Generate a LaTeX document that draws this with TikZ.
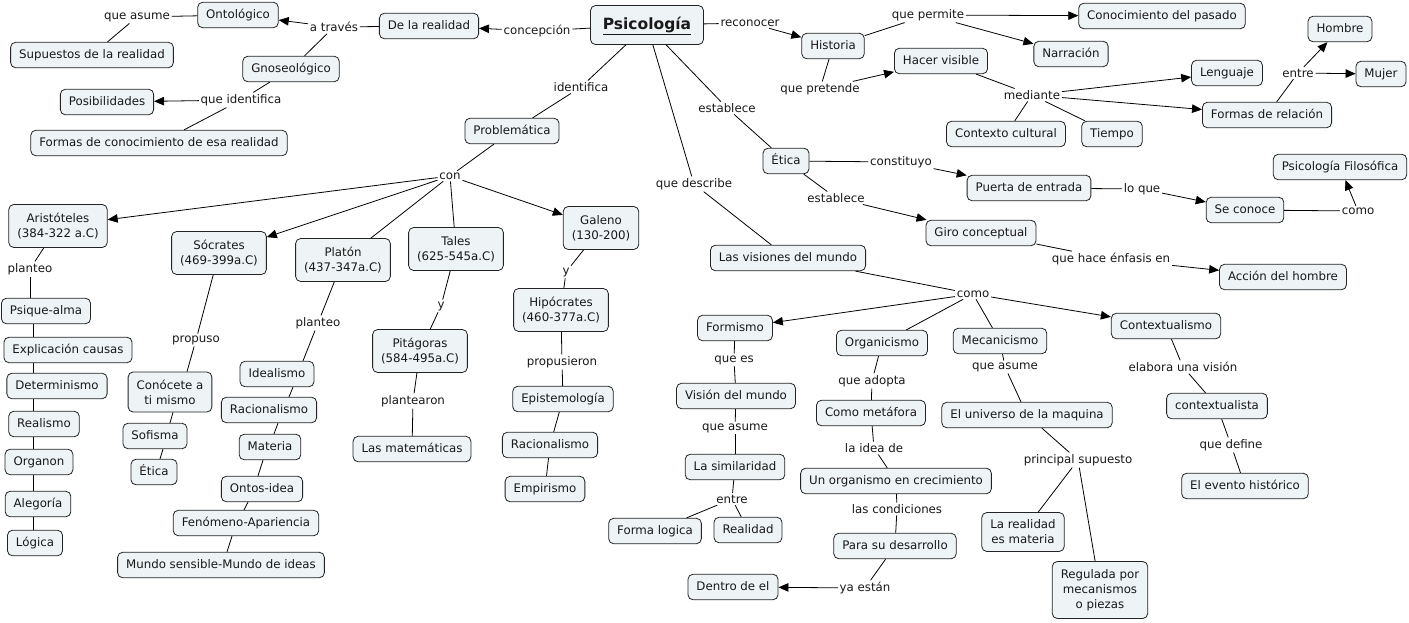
\documentclass[tikz,border=0pt]{standalone}
\usepackage{fontspec}
\setmainfont{DejaVu Sans}
\usepackage{tikz}
\usetikzlibrary{arrows.meta}
\definecolor{cmapfill}{RGB}{238,243,245}
\definecolor{cmapline}{RGB}{35,35,35}

\begin{document}
\begin{tikzpicture}[x=1pt,y=-1pt,line width=0.8pt,
  concept/.style={draw=cmapline,fill=cmapfill,rounded corners=5pt,
    inner xsep=8.5pt,inner ysep=0pt,minimum height=25.5pt,text height=9pt,text depth=2.5pt},
  concepttwo/.style={draw=cmapline,fill=cmapfill,rounded corners=5pt,
    inner xsep=8.5pt,inner ysep=0pt,minimum height=43pt,align=center},
  link/.style={inner sep=1.5pt},
  arr/.style={-{Triangle[length=10pt,width=8.5pt]}}]
\tikzstyle{every node}+=[font=\fontsize{11.8}{15}\selectfont,text=black!90]

\useasboundingbox (0,0) rectangle (1409,622);
\fill [white] (0,0) rectangle (1409,622);

% concepts
\node [concept,minimum width=113pt,minimum height=39pt,text height=11.5pt,text depth=3.5pt,
  font=\fontsize{15.5}{18}\selectfont\bfseries] (psico) at (647,25) {\underline{Psicología}};
\node [concept] (realidad) at (429,26) {De la realidad};
\node [concept] (ontol) at (238,15) {Ontológico};
\node [concept] (supuestos) at (92,55) {Supuestos de la realidad};
\node [concept] (gnoseo) at (291,69) {Gnoseológico};
\node [concept] (posib) at (107,102) {Posibilidades};
\node [concept] (formasc) at (159,143) {Formas de conocimiento de esa realidad};
\node [concept] (problem) at (512,131) {Problemática};
\node [concepttwo] (arist) at (58,226) {Aristóteles\\(384-322 a.C)};
\node [concepttwo] (socr) at (219,253) {Sócrates\\(469-399a.C)};
\node [concepttwo] (platon) at (343,260) {Platón\\(437-347a.C)};
\node [concepttwo] (tales) at (456,249) {Tales\\(625-545a.C)};
\node [concepttwo] (galeno) at (601,228) {Galeno\\(130-200)};
\node [concepttwo] (hipoc) at (561,310) {Hipócrates\\(460-377a.C)};
\node [concept] (psique) at (46,311) {Psique-alma};
\node [concept] (explic) at (68,350) {Explicación causas};
\node [concept] (determ) at (57,386) {Determinismo};
\node [concept] (realis) at (44,424) {Realismo};
\node [concept] (organon) at (39,462) {Organon};
\node [concept] (alegoria) at (38,504) {Alegoría};
\node [concept] (logica) at (35,543) {Lógica};
\node [concepttwo,minimum height=40pt] (conoce) at (170,392) {Conócete a\\ti mismo};
\node [concept] (sofisma) at (155,436) {Sofisma};
\node [concept] (eticas) at (154,472) {Ética};
\node [concept] (ideal) at (277,374) {Idealismo};
\node [concept] (raciop) at (269,410) {Racionalismo};
\node [concept] (materia) at (270,447) {Materia};
\node [concept] (ontos) at (262,489) {Ontos-idea};
\node [concept] (fenom) at (246,523) {Fenómeno-Apariencia};
\node [concept] (mundo) at (221,565) {Mundo sensible-Mundo de ideas};
\node [concepttwo] (pitag) at (420,351) {Pitágoras\\(584-495a.C)};
\node [concept] (matem) at (412,449) {Las matemáticas};
\node [concept] (epist) at (563,399) {Epistemología};
\node [concept] (racioh) at (550,445) {Racionalismo};
\node [concept] (empir) at (545,489) {Empirismo};
\node [concept] (historia) at (833,46) {Historia};
\node [concept] (conpas) at (1162,16) {Conocimiento del pasado};
\node [concept] (narra) at (1071,54) {Narración};
\node [concept] (hacer) at (941,61) {Hacer visible};
\node [concept] (lengua) at (1227,73) {Lenguaje};
\node [concept] (formasr) at (1267,115) {Formas de relación};
\node [concept] (contexto) at (1006,134) {Contexto cultural};
\node [concept] (tiempo) at (1112,134) {Tiempo};
\node [concept] (hombre) at (1340,29) {Hombre};
\node [concept] (mujer) at (1381,74) {Mujer};
\node [concept] (etica) at (786,161) {Ética};
\node [concept] (puerta) at (1029,188) {Puerta de entrada};
\node [concept] (seconoce) at (1245,210) {Se conoce};
\node [concept] (psifil) at (1340,167) {Psicología Filosófica};
\node [concept] (giro) at (981,233) {Giro conceptual};
\node [concept] (accion) at (1283,277) {Acción del hombre};
\node [concept] (visiones) at (788,258) {Las visiones del mundo};
\node [concept] (formismo) at (735,328) {Formismo};
\node [concept] (vision) at (736,396) {Visión del mundo};
\node [concept] (simil) at (735,467) {La similaridad};
\node [concept] (formal) at (655,531) {Forma logica};
\node [concept] (realid) at (748,530) {Realidad};
\node [concept] (organi) at (882,343) {Organicismo};
\node [concept] (metafora) at (871,413) {Como metáfora};
\node [concept] (organismo) at (896,481) {Un organismo en crecimiento};
\node [concept] (parasu) at (895,546) {Para su desarrollo};
\node [concept] (dentro) at (733,587) {Dentro de el};
\node [concept] (mecani) at (1000,341) {Mecanicismo};
\node [concept] (universo) at (1027,415) {El universo de la maquina};
\node [concepttwo,minimum height=39pt] (realmat) at (1023,532) {La realidad\\es materia};
\node [concepttwo,minimum height=57pt] (regulada) at (1100,590) {Regulada por\\mecanismos\\o piezas};
\node [concept] (context) at (1166,326) {Contextualismo};
\node [concept] (contextual) at (1217,406) {contextualista};
\node [concept] (evento) at (1245,486) {El evento histórico};

% linking phrases
\node [link] (lconcep) at (537,31) {concepción};
\node [link] (latraves) at (334,27) {a través};
\node [link] (lasume) at (137,17) {que asume};
\node [link] (lidentq) at (241,100) {que identifica};
\node [link] (lident) at (581,87) {identifica};
\node [link] (lcon) at (450,176) {con};
\node [link] (lplanteoa) at (30,269) {planteo};
\node [link] (lpropuso) at (196,340) {propuso};
\node [link] (lplanteop) at (318,323) {planteo};
\node [link] (lyt) at (441,306) {y};
\node [link] (lplantearon) at (413,401) {plantearon};
\node [link] (lyg) at (566,272) {y};
\node [link] (lpropus) at (562,362) {propusieron};
\node [link] (lrecon) at (750,23) {reconocer};
\node [link] (lpermite) at (928,15) {que permite};
\node [link] (lpretende) at (820,89) {que pretende};
\node [link] (lmediante) at (1032,95) {mediante};
\node [link] (lentre) at (1298,73) {entre};
\node [link] (lestab) at (727,108) {establece};
\node [link] (lconst) at (901,162) {constituyo};
\node [link] (lestabb) at (836,198) {establece};
\node [link] (lloque) at (1142,189) {lo que};
\node [link] (lcomof) at (1358,211) {como};
\node [link] (lenfasis) at (1111,259) {que hace énfasis en};
\node [link] (ldescribe) at (694,184) {que describe};
\node [link] (lcomo) at (973,294) {como};
\node [link] (lquees) at (734,360) {que es};
\node [link] (lasumef) at (735,428) {que asume};
\node [link] (lentref) at (732,499) {entre};
\node [link] (ladopta) at (872,381) {que adopta};
\node [link] (lidea) at (874,448) {la idea de};
\node [link] (lcond) at (897,509) {las condiciones};
\node [link] (lyaestan) at (865,588) {ya están};
\node [link] (lasumem) at (1005,367) {que asume};
\node [link] (lprincipal) at (1078,460) {principal supuesto};
\node [link] (lelabora) at (1183,367) {elabora una visión};
\node [link] (ldefine) at (1231,445) {que define};

\coordinate (cola) at (33,0);

% upper left
\draw (psico) -- (lconcep);
\draw [arr] (lconcep) -- (realidad);
\draw (realidad) -- (latraves);
\draw [arr] (latraves) -- (ontol);
\draw (latraves) -- (gnoseo);
\draw (ontol) -- (lasume);
\draw (lasume) -- (supuestos);
\draw (gnoseo) -- (lidentq);
\draw [arr] (lidentq) -- (posib);
\draw (lidentq) -- (formasc);

% problematica
\draw (psico) -- (lident);
\draw (lident) -- (problem);
\draw (problem) -- (lcon);
\draw [arr] (lcon) -- (arist);
\draw [arr] (lcon) -- (socr);
\draw (lcon) -- (platon);
\draw (lcon) -- (tales);
\draw [arr] (lcon) -- (galeno);
\draw (arist) -- (lplanteoa);
\draw (lplanteoa) -- (psique.north -| lplanteoa);
\draw (psique.south -| cola) -- (explic.north -| cola);
\draw (explic.south -| cola) -- (determ.north -| cola);
\draw (determ.south -| cola) -- (realis.north -| cola);
\draw (realis.south -| cola) -- (organon.north -| cola);
\draw (organon.south -| cola) -- (alegoria.north -| cola);
\draw (alegoria.south -| cola) -- (logica.north -| cola);
\draw (socr) -- (lpropuso);
\draw (lpropuso) -- ([xshift=17pt]conoce.north);
\draw ([xshift=3pt]conoce.south) -- ([xshift=15pt]sofisma.north);
\draw ([xshift=8pt]sofisma.south) -- ([xshift=6pt]eticas.north);
\draw (platon) -- (lplanteop);
\draw (lplanteop) -- ([xshift=26pt]ideal.north);
\draw ([xshift=16pt]ideal.south) -- ([xshift=20pt]raciop.north);
\draw ([xshift=9pt]raciop.south) -- ([xshift=4pt]materia.north);
\draw ([xshift=-7pt]materia.south) -- ([xshift=-4pt]ontos.north);
\draw ([xshift=-14pt]ontos.south) -- ([xshift=-2pt]fenom.north);
\draw ([xshift=-14pt]fenom.south) -- ([xshift=6pt]mundo.north);
\draw (tales) -- (lyt);
\draw (lyt) -- (pitag);
\draw (pitag) -- (lplantearon);
\draw (lplantearon) -- (matem);
\draw (galeno) -- (lyg);
\draw (lyg) -- (hipoc);
\draw (hipoc) -- (lpropus);
\draw (lpropus) -- (epist);
\draw (epist) -- (racioh);
\draw (racioh) -- (empir);

% historia
\draw (psico) -- (lrecon);
\draw [arr] (lrecon) -- (historia);
\draw (historia) -- (lpermite);
\draw [arr] (lpermite) -- (conpas);
\draw [arr] (lpermite) -- (narra);
\draw (historia) -- (lpretende);
\draw [arr] (lpretende) -- (hacer);
\draw (hacer) -- (lmediante);
\draw [arr] (lmediante) -- (lengua);
\draw [arr] (lmediante) -- (formasr);
\draw (lmediante) -- (contexto);
\draw (lmediante) -- (tiempo);
\draw (formasr) -- (lentre);
\draw [arr] (lentre) -- (hombre);
\draw [arr] (lentre) -- (mujer);

% etica
\draw (psico) -- (lestab);
\draw (lestab) -- (etica);
\draw (etica) -- (lconst);
\draw [arr] (lconst) -- (puerta);
\draw (puerta) -- (lloque);
\draw [arr] (lloque) -- (seconoce);
\draw (seconoce) -- (lcomof);
\draw [arr] (lcomof) -- (psifil);
\draw (etica) -- (lestabb);
\draw [arr] (lestabb) -- (giro);
\draw (giro) -- (lenfasis);
\draw [arr] (lenfasis) -- (accion);

% visiones del mundo
\draw (psico) -- (ldescribe);
\draw (ldescribe) -- (visiones);
\draw (visiones) -- (lcomo);
\draw [arr] (lcomo) -- (formismo);
\draw (lcomo) -- (organi);
\draw (lcomo) -- (mecani);
\draw [arr] (lcomo) -- (context);
\draw (formismo) -- (lquees);
\draw (lquees) -- (vision);
\draw (vision) -- (lasumef);
\draw (lasumef) -- (simil);
\draw (simil) -- (lentref);
\draw (lentref) -- (formal);
\draw (lentref) -- (realid);
\draw (organi) -- (ladopta);
\draw (ladopta) -- (metafora);
\draw (metafora) -- (lidea);
\draw (lidea) -- (organismo);
\draw (organismo) -- (lcond);
\draw (lcond) -- (parasu);
\draw (parasu) -- (lyaestan);
\draw [arr] (lyaestan) -- (dentro);
\draw (mecani) -- (lasumem);
\draw (lasumem) -- (universo);
\draw (universo) -- (lprincipal);
\draw (lprincipal) -- (realmat);
\draw (lprincipal) -- (regulada);
\draw (context) -- (lelabora);
\draw (lelabora) -- (contextual);
\draw (contextual) -- (ldefine);
\draw (ldefine) -- (evento);
\end{tikzpicture}
\end{document}
